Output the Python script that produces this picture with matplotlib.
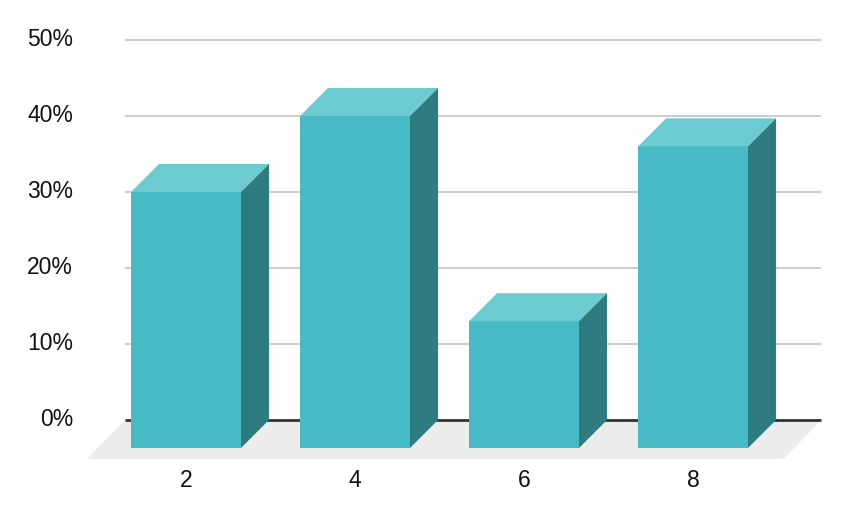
"""
Barras con efecto 3D (porcentaje por categoría)
"""

import matplotlib
matplotlib.use("Agg")
import matplotlib.pyplot as plt
from matplotlib.patches import Polygon

categorias = [2, 4, 6, 8]
valores = [30, 40, 13, 36]          # porcentaje
ticks_y = [0, 10, 20, 30, 40, 50]
etiquetas_y = ["0%", "10%", "20%", "30%", "40%", "50%"]

# colores
c_frente = "#47bbc5"
c_techo = "#6ccad1"
c_lado = "#2e7b80"
c_piso = "#ececec"
c_grid = "#cccccc"
c_eje = "#333333"
c_texto = "#111111"

plt.rcParams['font.family'] = ['Liberation Sans', 'DejaVu Sans']

fig = plt.figure(figsize=(8.46, 5.20), dpi=100)
ax = fig.add_axes([0, 0, 1, 1])
# escala: 84.5 px por unidad en x, 7.6 px por 1% en y
ax.set_xlim(-0.201, -0.201 + 846 / 84.5)
ax.set_ylim(-100 / 7.6, 420 / 7.6)
ax.axis("off")

ancho = 110 / 84.5          # ancho de la cara frontal
prof_x = 28 / 84.5          # profundidad de la barra
prof_y = 28 / 7.6
piso_x = 38 / 84.5          # profundidad del piso
piso_y = 39 / 7.6

# pared: de x_izq a x_der (plano del fondo)
x_izq = categorias[0] - 1.17 + piso_x
x_der = categorias[-1] + 1.07 + piso_x

# piso
piso = Polygon([(x_izq - piso_x, -piso_y), (x_der - piso_x, -piso_y),
                (x_der, 0), (x_izq, 0)], closed=True, fc=c_piso, ec="none", zorder=1)
ax.add_patch(piso)

# líneas de cuadrícula
for t in ticks_y[1:]:
    ax.plot([x_izq, x_der], [t, t], color=c_grid, lw=1.4, zorder=2, solid_capstyle="butt")
ax.plot([x_izq, x_der], [0, 0], color=c_eje, lw=2, zorder=2, solid_capstyle="butt")

# etiquetas del eje y
for t, lab in zip(ticks_y, etiquetas_y):
    ax.text(-0.201 + 73 / 84.5, t, lab, ha="right", va="center",
            fontsize=16.5, color=c_texto)

# barras
for x, v in zip(categorias, valores):
    x0 = x - ancho / 2
    x1 = x + ancho / 2
    y0 = -prof_y
    frente = Polygon([(x0, y0), (x1, y0), (x1, v), (x0, v)], closed=True,
                     fc=c_frente, ec="none", zorder=3)
    techo = Polygon([(x0, v), (x1, v), (x1 + prof_x, v + prof_y), (x0 + prof_x, v + prof_y)],
                    closed=True, fc=c_techo, ec="none", zorder=3)
    lado = Polygon([(x1, y0), (x1 + prof_x, y0 + prof_y), (x1 + prof_x, v + prof_y), (x1, v)],
                   closed=True, fc=c_lado, ec="none", zorder=3)
    for p in (frente, techo, lado):
        ax.add_patch(p)
    ax.text(x, -(480.5 - 420) / 7.6, str(x), ha="center", va="center",
            fontsize=16.5, color=c_texto)

plt.savefig("out.png", dpi=100)
